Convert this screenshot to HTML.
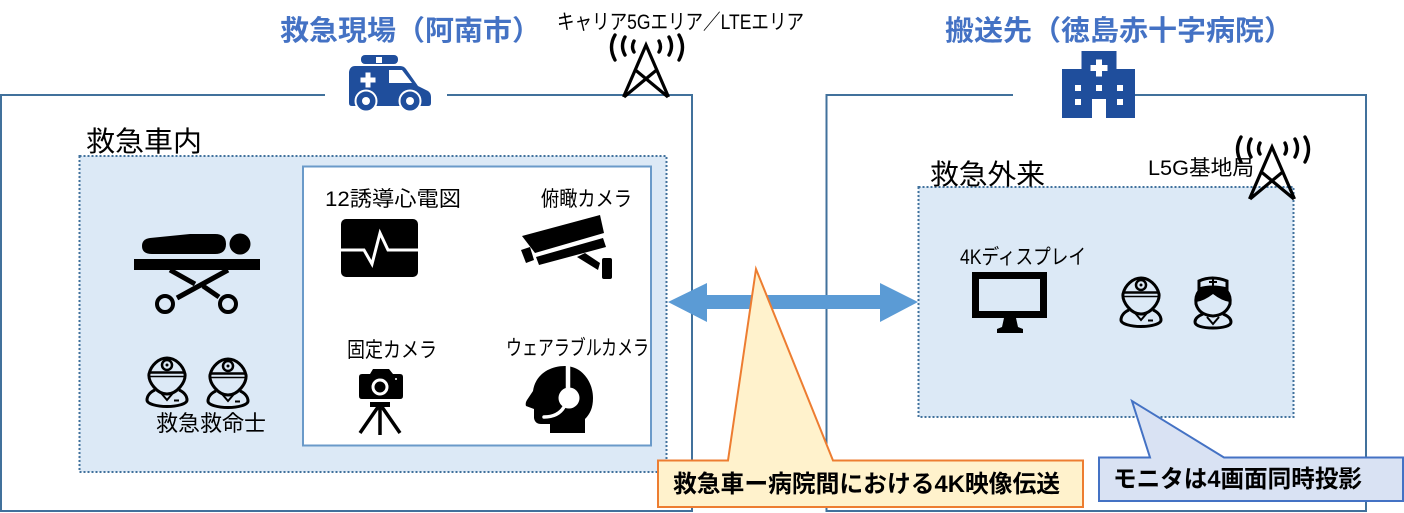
<!DOCTYPE html>
<html lang="ja">
<head>
<meta charset="utf-8">
<style>
html,body{margin:0;padding:0;background:#fff;width:1404px;height:513px;overflow:hidden}
svg{display:block}
text{font-family:"Liberation Sans","Noto Sans CJK JP",sans-serif;fill:#000}
.h{font-weight:700;fill:#4472c4;font-size:28px}
.b{font-weight:700;font-size:24px}
.t{font-size:21px}
</style>
</head>
<body>
<svg width="1404" height="513" viewBox="0 0 1404 513" xmlns="http://www.w3.org/2000/svg">
<defs>
<g id="doc" fill="none" stroke="#000" stroke-width="3">
  <path d="M-18 17C-16 8 -8 1 0 1C8 1 16 8 18 17C19 25 10 37 0 37C-10 37 -19 25 -18 17Z"/>
  <path d="M-17.500 15.500H17.500" stroke-width="2.500"/>
  <path d="M-17.500 19.500H17.500" stroke-width="1.500"/>
  <circle cx="0" cy="8" r="5" fill="#dce9f6" stroke-width="2.500"/>
  <circle cx="0" cy="8" r="1.500" fill="#000" stroke="none"/>
  <path d="M-12 33C-17 35 -20 39 -20 43C-20 47 -10 49.500 0 49.500C10 49.500 20 47 20 43C20 39 17 35 12 33"/>
  <path d="M-6 36L0 43L6 36" stroke-width="2"/>
  <path d="M7 43.500H12" stroke-width="2"/>
</g>
<g id="tower" fill="none" stroke="#000">
  <path d="M-22.500 52L0 0L22.500 52M-10.600 25L22 52M10.600 25L-22 52" stroke-width="3.200"/>
  <path d="M-12 -4Q-15 2 -12 7M13 -4Q16 2 13 7M-21 -8Q-26 1 -21 10M23 -8Q28 1 23 10M-31 -10Q-38 2 -31 15M33 -10Q40 2 33 15" stroke-width="3.400" stroke-linecap="round"/>
</g>
</defs>

<!-- outer frames -->
<path d="M325 95H1V511H692V95H447" fill="none" stroke="#41719c" stroke-width="2"/>
<path d="M1013 95H826.500V511H1366V95H1122" fill="none" stroke="#41719c" stroke-width="2"/>

<!-- inner areas -->
<rect x="79.500" y="156" width="587" height="316" fill="#dce9f6" stroke="#41719c" stroke-width="2" stroke-dasharray="2 2"/>
<rect x="303" y="166.500" width="348" height="279" fill="#fff" stroke="#6a9ac9" stroke-width="2"/>
<rect x="918.500" y="187" width="375" height="230" fill="#dce9f6" stroke="#41719c" stroke-width="2" stroke-dasharray="2 2"/>

<!-- double arrow -->
<polygon points="668,302 707,283 707,295 880,295 880,283 918,302 880,322 880,309 707,309 707,322" fill="#5b9bd5"/>

<!-- ambulance -->
<g fill="#1f4e9c">
  <rect x="361" y="55" width="37" height="9" rx="4"/>
  <path d="M355 66H400Q404 66 406 69L418 86L428 91Q431 93 431 97V103Q431 106 428 106H352Q349 106 349 103V72Q350 66 355 66Z"/>
  <circle cx="366" cy="101" r="10.500" stroke="#fff" stroke-width="2"/>
  <circle cx="410" cy="101" r="10.500" stroke="#fff" stroke-width="2"/>
</g>
<rect x="376" y="57" width="6" height="6" fill="#fff"/>
<polygon points="389,70 402,70 412,83 389,83" fill="#fff"/>
<path d="M360.500 80H375.500M368 72.500V87.500" stroke="#fff" stroke-width="5"/>
<circle cx="366" cy="101" r="4" fill="#fff"/>
<circle cx="410" cy="101" r="4" fill="#fff"/>

<!-- hospital -->
<path d="M1081.500 51H1116.500V69H1135V118H1106V99H1092V118H1062V69H1081.500Z" fill="#1f4e9c"/>
<path d="M1090.500 68H1107.500M1099 59.500V76.500" stroke="#fff" stroke-width="6"/>
<g fill="#fff">
  <rect x="1075" y="85" width="6" height="6"/><rect x="1096" y="85" width="6" height="6"/><rect x="1117" y="85" width="6" height="6"/>
  <rect x="1075" y="99" width="6" height="6"/><rect x="1117" y="99" width="6" height="6"/>
</g>

<!-- towers -->
<use href="#tower" x="646" y="45"/>
<use href="#tower" x="1272" y="147"/>

<!-- stretcher -->
<path d="M142 246Q142 239 150 238L190 234H215Q226 234 226 244Q226 254 215 254H152Q142 254 142 246Z"/>
<circle cx="240" cy="244" r="10.500"/>
<rect x="134" y="259" width="126" height="11"/>
<path d="M170 270L195 284M228 270L177 298M203 286L219 297" stroke="#000" stroke-width="5" fill="none"/>
<circle cx="165" cy="304" r="8" fill="none" stroke="#000" stroke-width="4"/>
<circle cx="228" cy="304" r="8" fill="none" stroke="#000" stroke-width="4"/>

<!-- persons -->
<use href="#doc" x="167" y="357"/>
<use href="#doc" x="228" y="358"/>
<use href="#doc" x="1141" y="277"/>

<!-- nurse -->
<g fill="none" stroke="#000" stroke-width="3">
  <path d="M1199 289V281Q1212 275 1227 281V289Q1212 285 1199 289Z"/>
  <path d="M1199 291Q1212 288 1227 291Q1231 296 1230 304Q1226 315 1213 316Q1199 315 1196 304Q1195 296 1199 291Z"/>
  <path d="M1203 314C1198 316 1195 319 1195 322C1195 326 1203 328 1213 328C1223 328 1231 326 1231 322C1231 319 1228 316 1223 314"/>
  <path d="M1207 317L1213 324L1219 317" stroke-width="2"/>
  <path d="M1209 282H1217M1213 278.500V285.500" stroke-width="2"/>
</g>
<path d="M1198 292Q1213 288 1228 292Q1231 297 1230 302Q1222 301 1213 294Q1204 301 1196 302Q1195 297 1198 292Z"/>

<!-- ECG -->
<rect x="341" y="219" width="77" height="58" rx="5"/>
<path d="M341 250H364L372 264L380 233L388 250H418" fill="none" stroke="#fff" stroke-width="3"/>

<!-- CCTV -->
<polygon points="522,236 600,215 604,233 535,253"/>
<polygon points="536,257 603,238 606,247 539,265"/>
<polygon points="521,250 530,247 534,260 526,263"/>
<polygon points="577,257 585,253 600,263 598,270"/>
<rect x="602" y="258" width="10" height="21" rx="2"/>

<!-- tripod camera -->
<path d="M362 374H370L373 369H389L393 374H400Q403 374 403 377V396Q403 399 400 399H362Q359 399 359 396V377Q359 374 362 374Z"/>
<circle cx="380" cy="387" r="7" fill="none" stroke="#fff" stroke-width="3"/>
<circle cx="396" cy="379" r="1" fill="#fff"/>
<rect x="370" y="402" width="20" height="5"/>
<path d="M380 407V435M378 407L360 433M382 407L400 433" stroke="#000" stroke-width="3.500" fill="none"/>

<!-- headset -->
<path d="M550 433V424H541Q535 424 534 418V409L526 406Q525 403 527 400L533 391C535 376 548 366 565 366C582 366 593 382 593 398C593 408 590 414 585 419V433Z"/>
<path d="M568 366V388" stroke="#fff" stroke-width="4.500"/>
<circle cx="569" cy="398" r="10.500" fill="#fff"/>
<path d="M564 407Q558 417 544 417" fill="none" stroke="#fff" stroke-width="3.500" stroke-linecap="round"/>

<!-- monitor -->
<rect x="972" y="272" width="75" height="46"/>
<rect x="979" y="279" width="61" height="32" fill="#dce9f6"/>
<path d="M1004 318H1016L1018 327L1023 329V333H997V329L1002 327Z"/>

<!-- callouts -->
<polygon points="658,460.500 728,460.500 756,269 833,460.500 1083,460.500 1083,507 658,507" fill="#fff2cc" stroke="#ed7d31" stroke-width="2"/>
<polygon points="1099,457.500 1150,457.500 1132,401 1224,457.500 1403,457.500 1403,501 1099,501" fill="#d9e2f3" stroke="#4472c4" stroke-width="2"/>

<!-- labels -->
<text class="h" x="280" y="40" textLength="261" lengthAdjust="spacingAndGlyphs">救急現場（阿南市）</text>
<text class="h" x="945" y="40" textLength="348" lengthAdjust="spacingAndGlyphs">搬送先（徳島赤十字病院）</text>
<text class="t" x="557" y="29" textLength="247" lengthAdjust="spacingAndGlyphs">キャリア5Gエリア／LTEエリア</text>
<text x="86" y="151" font-size="28" textLength="116" lengthAdjust="spacingAndGlyphs">救急車内</text>
<text x="930" y="184" font-size="28" textLength="115" lengthAdjust="spacingAndGlyphs">救急外来</text>
<text class="t" x="325" y="206" textLength="136" lengthAdjust="spacingAndGlyphs">12誘導心電図</text>
<text class="t" x="541" y="206" textLength="91" lengthAdjust="spacingAndGlyphs">俯瞰カメラ</text>
<text class="t" x="347" y="357" textLength="90" lengthAdjust="spacingAndGlyphs">固定カメラ</text>
<text class="t" x="506" y="355" textLength="143" lengthAdjust="spacingAndGlyphs">ウェアラブルカメラ</text>
<text x="156" y="431" font-size="22" textLength="110" lengthAdjust="spacingAndGlyphs">救急救命士</text>
<text class="t" x="1148" y="175" textLength="106" lengthAdjust="spacingAndGlyphs">L5G基地局</text>
<text class="t" x="960" y="264" textLength="126" lengthAdjust="spacingAndGlyphs">4Kディスプレイ</text>
<text class="b" x="673" y="492" textLength="387" lengthAdjust="spacingAndGlyphs">救急車ー病院間における4K映像伝送</text>
<text class="b" x="1113" y="487" textLength="249" lengthAdjust="spacingAndGlyphs">モニタは4画面同時投影</text>
</svg>
</body>
</html>
